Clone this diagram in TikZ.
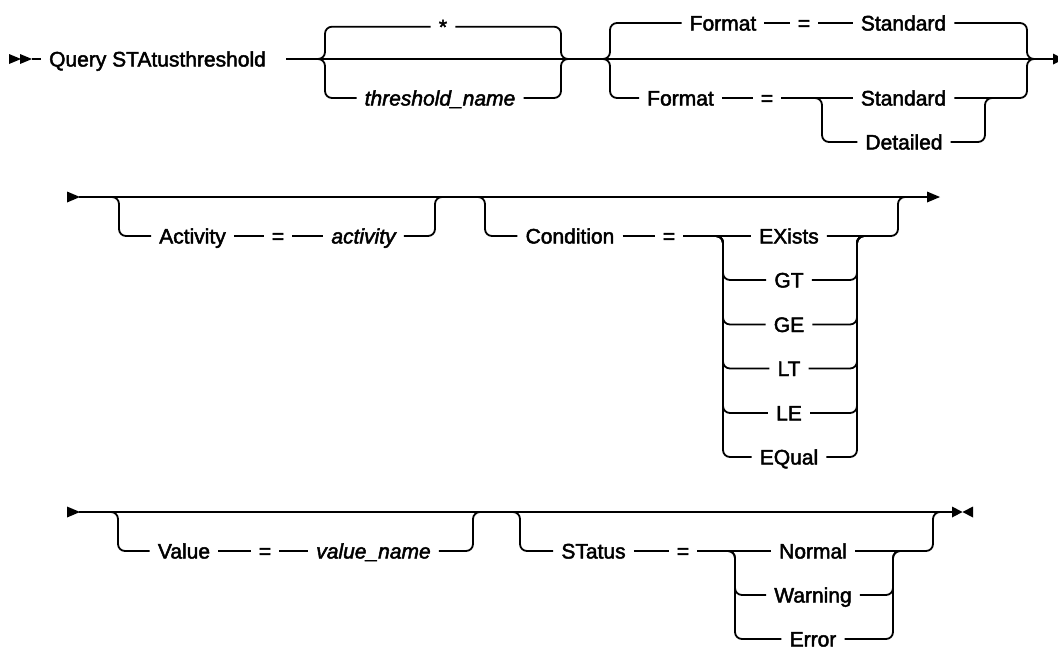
\documentclass[tikz,border=0pt]{standalone}
\usepackage{fontspec}
\setmainfont{Liberation Sans}
\newfontfamily\railfont[FakeBold=2.2]{Liberation Sans}
\begin{document}
\begin{tikzpicture}[x=1pt,y=-1pt,
  rail/.style={line width=1.8pt, rounded corners=7pt},
  kw/.style={inner xsep=8pt, inner ysep=0pt, text height=15pt, text depth=0pt, font=\railfont\fontsize{21}{25}\selectfont},
  var/.style={kw, font=\railfont\fontsize{21}{25}\selectfont\itshape},
  tipm/.style={fill=black}]
\useasboundingbox (0,0) rectangle (1058,649);

% ---------------- Row 1 ----------------
\coordinate (s1) at (32,59);
\fill[tipm] (9,54) -- (21,59) -- (9,64) -- cycle;
\fill[tipm] (20,54) -- (32,59) -- (20,64) -- cycle;
\node[kw] (q) at (157.5,59) {Query STAtusthreshold};
\draw[rail] (s1) -- (q.west);
\coordinate (r1a) at (286,59);
\coordinate (r1z) at (1054,59);
\draw[rail] (r1a) -- (r1z);
\fill[tipm] (1053,53.5) -- (1064,59) -- (1053,64.5) -- cycle;

% group 1
\node[kw] (star) at (443,26.7) {*};
\node[var] (tname) at (440,98) {threshold\_name};
\draw[rail] (318,59) -- (325,59) -- (325,26.7) -- (star.west);
\draw[rail] (star.east) -- (561,26.7) -- (561,59) -- (568,59);
\draw[rail] (318,59) -- (325,59) -- (325,98) -- (tname.west);
\draw[rail] (tname.east) -- (561,98) -- (561,59) -- (568,59);

% group 2
\node[kw] (f1) at (723,23) {Format};
\node[kw] (e1) at (804,23) {=};
\node[kw] (sd1) at (903.5,23) {Standard};
\draw[rail] (603,59) -- (610,59) -- (610,23) -- (f1.west);
\draw[rail] (f1) -- (e1);
\draw[rail] (e1) -- (sd1);
\draw[rail] (sd1.east) -- (1027,23) -- (1027,59) -- (1034,59);

\node[kw] (f2) at (680.5,98) {Format};
\node[kw] (e2) at (767,98) {=};
\node[kw] (sd2) at (903.5,98) {Standard};
\node[kw] (dt2) at (904,142) {Detailed};
\draw[rail] (603,59) -- (610,59) -- (610,98) -- (f2.west);
\draw[rail] (f2) -- (e2);
\draw[rail] (e2) -- (sd2);
\draw[rail] (sd2.east) -- (1027,98) -- (1027,59) -- (1034,59);
\draw[rail] (815,98) -- (822,98) -- (822,142) -- (dt2.west);
\draw[rail] (dt2.east) -- (985,142) -- (985,98) -- (992,98);

% ---------------- Row 2 ----------------
\fill[tipm] (67,191.5) -- (80,197) -- (67,202.5) -- cycle;
\coordinate (r2a) at (79,197);
\coordinate (r2z) at (928,197);
\draw[rail] (r2a) -- (r2z);
\fill[tipm] (927,191.5) -- (940,197) -- (927,202.5) -- cycle;

% Activity
\node[kw] (a1) at (192.5,236) {Activity};
\node[kw] (a2) at (278,236) {=};
\node[var] (a3) at (363.5,236) {activity};
\draw[rail] (112,197) -- (119,197) -- (119,236) -- (a1.west);
\draw[rail] (a1) -- (a2);
\draw[rail] (a2) -- (a3);
\draw[rail] (a3.east) -- (435,236) -- (435,197) -- (442,197);

% Condition
\node[kw] (c1) at (570,236) {Condition};
\node[kw] (c2) at (669,236) {=};
\node[kw] (ex) at (789,236) {EXists};
\draw[rail] (478,197) -- (485,197) -- (485,236) -- (c1.west);
\draw[rail] (c1) -- (c2);
\draw[rail] (c2) -- (ex);
\draw[rail] (ex.east) -- (898,236) -- (898,197) -- (905,197);
\foreach \n/\t/\y in {gt/GT/280, ge/GE/324.5, lt/LT/368.5, le/LE/413, eq/EQual/457} {
  \node[kw] (\n) at (789,\y) {\t};
  \draw[rail] (716,236) -- (723,236) -- (723,\y) -- (\n.west);
  \draw[rail] (\n.east) -- (857,\y) -- (857,236) -- (864,236);
}

% ---------------- Row 3 ----------------
\fill[tipm] (67,506.5) -- (80,512) -- (67,517.5) -- cycle;
\coordinate (r3a) at (79,512);
\coordinate (r3z) at (953,512);
\draw[rail] (r3a) -- (r3z);
\fill[tipm] (952,506.5) -- (962.5,512) -- (952,517.5) -- cycle;
\fill[tipm] (973,506.5) -- (962.5,512) -- (973,517.5) -- cycle;

% Value
\node[kw] (v1) at (184,551) {Value};
\node[kw] (v2) at (265,551) {=};
\node[var] (v3) at (373.5,551) {value\_name};
\draw[rail] (111,512) -- (118,512) -- (118,551) -- (v1.west);
\draw[rail] (v1) -- (v2);
\draw[rail] (v2) -- (v3);
\draw[rail] (v3.east) -- (473,551) -- (473,512) -- (480,512);

% STatus
\node[kw] (t1) at (593.5,551) {STatus};
\node[kw] (t2) at (683,551) {=};
\node[kw] (nm) at (813,551) {Normal};
\node[kw] (wn) at (813,595) {Warning};
\node[kw] (er) at (813,639) {Error};
\draw[rail] (513,512) -- (520,512) -- (520,551) -- (t1.west);
\draw[rail] (t1) -- (t2);
\draw[rail] (t2) -- (nm);
\draw[rail] (nm.east) -- (933,551) -- (933,512) -- (940,512);
\draw[rail] (728,551) -- (735,551) -- (735,595) -- (wn.west);
\draw[rail] (728,551) -- (735,551) -- (735,639) -- (er.west);
\draw[rail] (wn.east) -- (893,595) -- (893,551) -- (900,551);
\draw[rail] (er.east) -- (893,639) -- (893,551) -- (900,551);
\end{tikzpicture}
\end{document}
